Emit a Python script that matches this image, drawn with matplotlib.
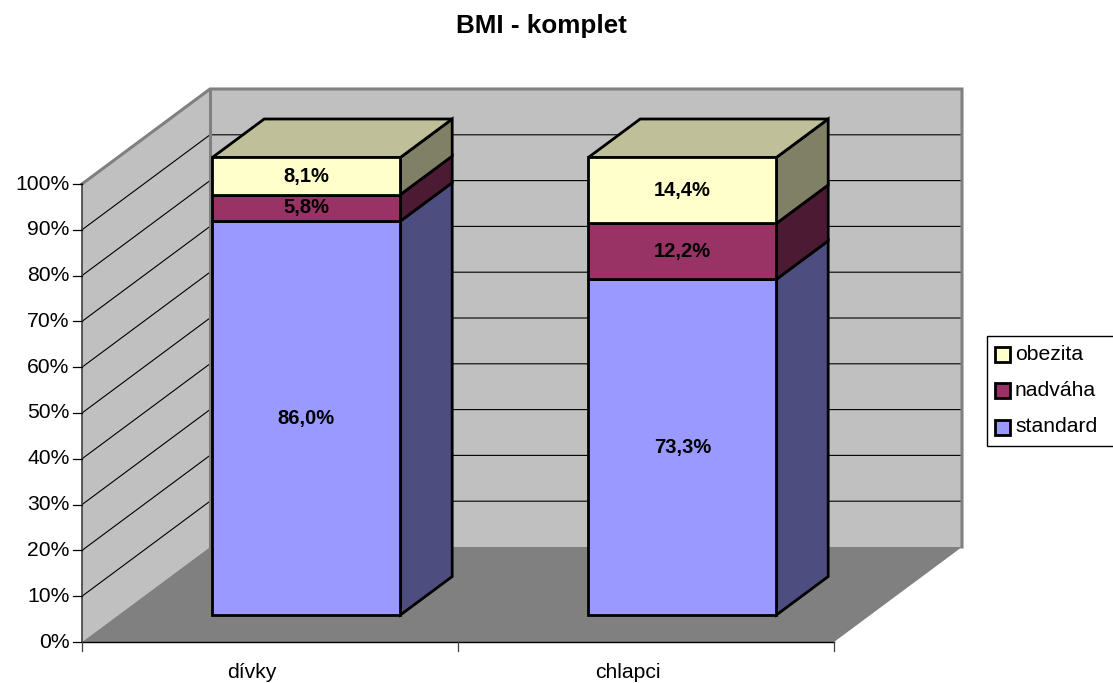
#!/usr/bin/env python3
"""BMI - komplet: stacked 3D-look column chart drawn on flat axes"""
import matplotlib
matplotlib.use('Agg')
import matplotlib.pyplot as plt
from matplotlib.patches import Polygon, Rectangle

plt.rcParams['font.family'] = ['Liberation Sans', 'DejaVu Sans']

categories = ['dívky', 'chlapci']
series_names = ['standard', 'nadváha', 'obezita']
standard = [86.0, 73.3]
nadvaha = [5.8, 12.2]
obezita = [8.1, 14.4]
y_ticks = [0, 10, 20, 30, 40, 50, 60, 70, 80, 90, 100]

FRONT = '#9999FF', '#993366', '#FFFFCC'
SIDE = '#4D4D80', '#4D1A33', '#808066'
TOP = '#BFBF99'
WALL = '#C0C0C0'
FLOOR = '#808080'
EDGE = '#808080'

# plot box in pixels: front-left corner, size of one category, depth offset
X0, Y0 = 82.0, 642.0
CAT_W = 376.0
PX_PCT = 4.58
DX, DY = 128.0, -95.0
BAR_W = 0.5
D1, D2 = 0.284, 0.689


def proj(cat, pct, depth):
    """category units, percent and depth fraction -> pixel position"""
    return (X0 + cat * CAT_W + depth * DX, Y0 - pct * PX_PCT + depth * DY)


fig = plt.figure(figsize=(11.13, 6.83), dpi=100)
ax = fig.add_axes([0, 0, 1, 1])
ax.set_xlim(0, 1113)
ax.set_ylim(683, 0)
ax.axis('off')

n = len(categories)
# walls and floor
ax.add_patch(Polygon([proj(0, 0, 1), proj(n, 0, 1), proj(n, 100, 1), proj(0, 100, 1)],
                     fc=WALL, ec='none', zorder=1))
ax.add_patch(Polygon([proj(0, 0, 0), proj(0, 0, 1), proj(0, 100, 1), proj(0, 100, 0)],
                     fc=WALL, ec='none', zorder=1))
ax.add_patch(Polygon([proj(0, 0, 0), proj(n, 0, 0), proj(n, 0, 1), proj(0, 0, 1)],
                     fc=FLOOR, ec='none', zorder=1))

# gridlines
for t in y_ticks[1:-1]:
    a, b, c = proj(0, t, 0), proj(0, t, 1), proj(n, t, 1)
    ax.plot([a[0], b[0], c[0]], [a[1], b[1], c[1]], color='black', lw=0.8, zorder=2)

# wall outline
pts = [proj(0, 100, 0), proj(0, 100, 1), proj(n, 100, 1), proj(n, 0, 1)]
ax.plot([p[0] for p in pts], [p[1] for p in pts], color=EDGE, lw=2.2, zorder=2,
        solid_joinstyle='miter')
a, b = proj(0, 0, 1), proj(0, 100, 1)
ax.plot([a[0], b[0]], [a[1], b[1]], color=EDGE, lw=2.2, zorder=2)

# columns
for i in range(n):
    values = [standard[i], nadvaha[i], obezita[i]]
    left = i + (1 - BAR_W) / 2
    right = left + BAR_W
    bottom = 0.0
    for j, v in enumerate(values):
        top = bottom + v
        ax.add_patch(Polygon([proj(left, bottom, D1), proj(right, bottom, D1),
                              proj(right, top, D1), proj(left, top, D1)],
                             fc=FRONT[j], ec='black', lw=2, zorder=4, joinstyle='miter'))
        ax.add_patch(Polygon([proj(right, bottom, D1), proj(right, bottom, D2),
                              proj(right, top, D2), proj(right, top, D1)],
                             fc=SIDE[j], ec='black', lw=2, zorder=3, joinstyle='miter'))
        cx, cy = proj(i + 0.5, bottom + v / 2, D1)
        ax.text(cx, cy, f'{v:.1f}%'.replace('.', ','), ha='center', va='center',
                fontsize=14.5, fontweight='bold', color='black', zorder=5)
        bottom = top
    ax.add_patch(Polygon([proj(left, bottom, D1), proj(right, bottom, D1),
                          proj(right, bottom, D2), proj(left, bottom, D2)],
                         fc=TOP, ec='black', lw=2, zorder=3, joinstyle='miter'))

# value axis
a, b = proj(0, 0, 0), proj(0, 100, 0)
ax.plot([a[0], b[0]], [a[1], b[1]], color='#404040', lw=1.2, zorder=3)
for t in y_ticks:
    x, y = proj(0, t, 0)
    ax.plot([x - 9, x], [y, y], color='black', lw=0.9, zorder=3)
    ax.text(x - 12.5, y, f'{t}%', ha='right', va='center', fontsize=15.2, color='black')

# category axis
a, b = proj(0, 0, 0), proj(n, 0, 0)
ax.plot([a[0], b[0]], [a[1], b[1]], color='black', lw=1.0, zorder=3)
for i in range(n + 1):
    x, y = proj(i, 0, 0)
    ax.plot([x, x], [y, y + 9], color='#404040', lw=0.9, zorder=3)
for i, name in enumerate(categories):
    x, y = proj(i + 0.5, 0, 0)
    ax.text(x - 18, y + 30, name, ha='center', va='center', fontsize=15.2, color='black')

ax.text(541, 26, 'BMI - komplet', ha='center', va='center', fontsize=18.7,
        fontweight='bold', color='black')

# legend box runs off the right edge
ax.add_patch(Rectangle((986.5, 335.5), 140, 110, fc='white', ec='black', lw=1.0,
                       zorder=3, clip_on=True))
for j, name in enumerate(reversed(series_names)):
    y = 354 + j * 36.5
    ax.add_patch(Rectangle((994.5, y - 7.5), 15, 15, fc=FRONT[2 - j], ec='black',
                           lw=2, zorder=4, joinstyle='miter'))
    ax.text(1015, y, name, ha='left', va='center', fontsize=15.2, color='black', zorder=4)

fig.savefig('out.png', dpi=100)
